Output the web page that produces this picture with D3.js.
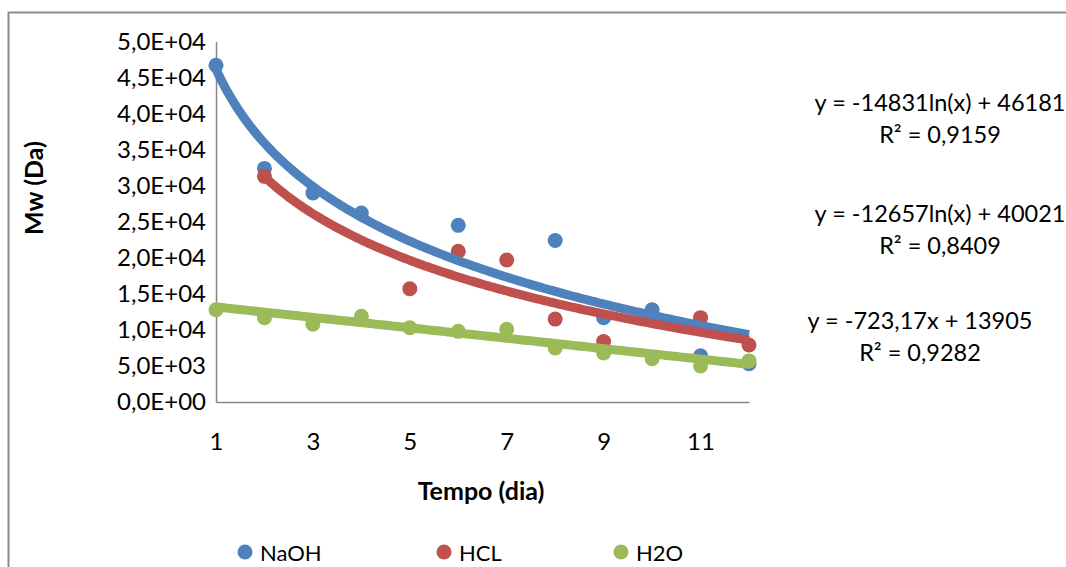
<!DOCTYPE html>
<html><head><meta charset="utf-8">
<script src="https://cdn.jsdelivr.net/npm/d3@7"></script>
<style>
html,body{margin:0;padding:0;background:#fff;}
svg{display:block;font-family:Lato,"Open Sans",sans-serif;}
</style></head>
<body>
<svg id="c" width="1066" height="567"></svg>
<script>
const days = [1,2,3,4,5,6,7,8,9,10,11,12];
const naoh = [46700,32400,29000,26200,null,24500,null,22400,11700,12800,6400,5300];
const hcl  = [null,31300,null,null,15700,20900,19700,11500,8400,null,11700,7900];
const h2o  = [12800,11700,10800,11900,10300,9800,10100,7500,6800,6000,5000,5700];
const seriesNames = ["NaOH","HCL","H2O"];
const seriesColors = ["#4F81BD","#C0504D","#9BBB59"];
const trendType = ["log","log","linear"];
const trendA = [-14831,-12657,-723.17];
const trendB = [46181,40021,13905];
const trendStart = [1,2,1];
const eqLines = [["y = -14831ln(x) + 46181","R² = 0,9159"],["y = -12657ln(x) + 40021","R² = 0,8409"],["y = -723,17x + 13905","R² = 0,9282"]];
const xTicks = [1,3,5,7,9,11];
const yTicks = [0,5000,10000,15000,20000,25000,30000,35000,40000,45000,50000];
const yTickLabels = ["0,0E+00","5,0E+03","1,0E+04","1,5E+04","2,0E+04","2,5E+04","3,0E+04","3,5E+04","4,0E+04","4,5E+04","5,0E+04"];
const xTitle = "Tempo (dia)", yTitle = "Mw (Da)";
const values = [naoh,hcl,h2o];

const svg = d3.select("#c");
const TICKFS = 24, EQFS = 23.5, LEGFS = 22, TITLEFS = 25;
// outer border
svg.append("path").attr("d","M8.5,567 L8.5,12.5 L1066,12.5").attr("fill","none").attr("stroke","#8c8c8c").attr("stroke-width",2);

const x = d3.scaleLinear().domain([1,12]).range([216,749]);
const y = d3.scaleLinear().domain([0,50000]).range([402,41.5]);

// axes
const yAxis = d3.axisLeft(y).tickValues(yTicks).tickSize(0).tickPadding(10)
  .tickFormat(d=>yTickLabels[yTicks.indexOf(d)]);
const gy = svg.append("g").attr("transform","translate(216,0)").call(yAxis);
gy.select(".domain").attr("stroke","#868686").attr("stroke-width",1.5);
gy.selectAll("text").attr("font-size",TICKFS).attr("fill","#000").attr("font-family","Lato");

const xAxis = d3.axisBottom(x).tickValues(xTicks).tickSize(0).tickPadding(31).tickFormat(d=>String(d));
const gx = svg.append("g").attr("transform","translate(0,402)").call(xAxis);
gx.select(".domain").attr("stroke","#868686").attr("stroke-width",1.5);
gx.selectAll("text").attr("font-size",TICKFS).attr("fill","#000").attr("font-family","Lato");

// titles
svg.append("text").attr("x",481).attr("y",490).attr("text-anchor","middle").attr("dominant-baseline","central")
  .attr("font-weight","bold").attr("font-size",TITLEFS).text(xTitle);
svg.append("text").attr("transform","translate(33,188) rotate(-90)").attr("text-anchor","middle").attr("dominant-baseline","central")
  .attr("font-weight","bold").attr("font-size",TITLEFS).text(yTitle);

// points
const ptsG = svg.append("g");
values.forEach((vals,si)=>{
  const pts = days.map((d,i)=>({d, v:vals[i]})).filter(p=>p.v!=null);
  ptsG.selectAll(null).data(pts).enter().append("circle")
    .attr("cx",p=>x(p.d)).attr("cy",p=>y(p.v)).attr("r",7.5).attr("fill",seriesColors[si]);
});

// trendlines
const line = d3.line().x(p=>x(p[0])).y(p=>y(p[1]));
[0,1,2].forEach(si=>{
  const pts = [];
  for(let k=0;k<=200;k++){
    const xv = trendStart[si] + (12-trendStart[si])*k/200;
    const yv = trendType[si]==="log" ? trendA[si]*Math.log(xv)+trendB[si] : trendA[si]*xv+trendB[si];
    pts.push([xv,yv]);
  }
  svg.append("path").attr("d",line(pts)).attr("fill","none").attr("stroke",seriesColors[si]).attr("stroke-width",9);
});

// equations
const eqPos = [[940,102],[940,213],[920,320]];
eqLines.forEach((lines,i)=>{
  lines.forEach((t,j)=>{
    svg.append("text").attr("x",eqPos[i][0]).attr("y",eqPos[i][1]+j*32).attr("text-anchor","middle")
      .attr("dominant-baseline","central").attr("font-size",EQFS).text(t);
  });
});

// legend
const legX = [245,444,621];
seriesNames.forEach((n,i)=>{
  svg.append("circle").attr("cx",legX[i]).attr("cy",552).attr("r",7.5).attr("fill",seriesColors[i]);
  svg.append("text").attr("x",legX[i]+15).attr("y",552).attr("dominant-baseline","central").attr("font-size",LEGFS).text(n);
});
</script>
</body></html>
